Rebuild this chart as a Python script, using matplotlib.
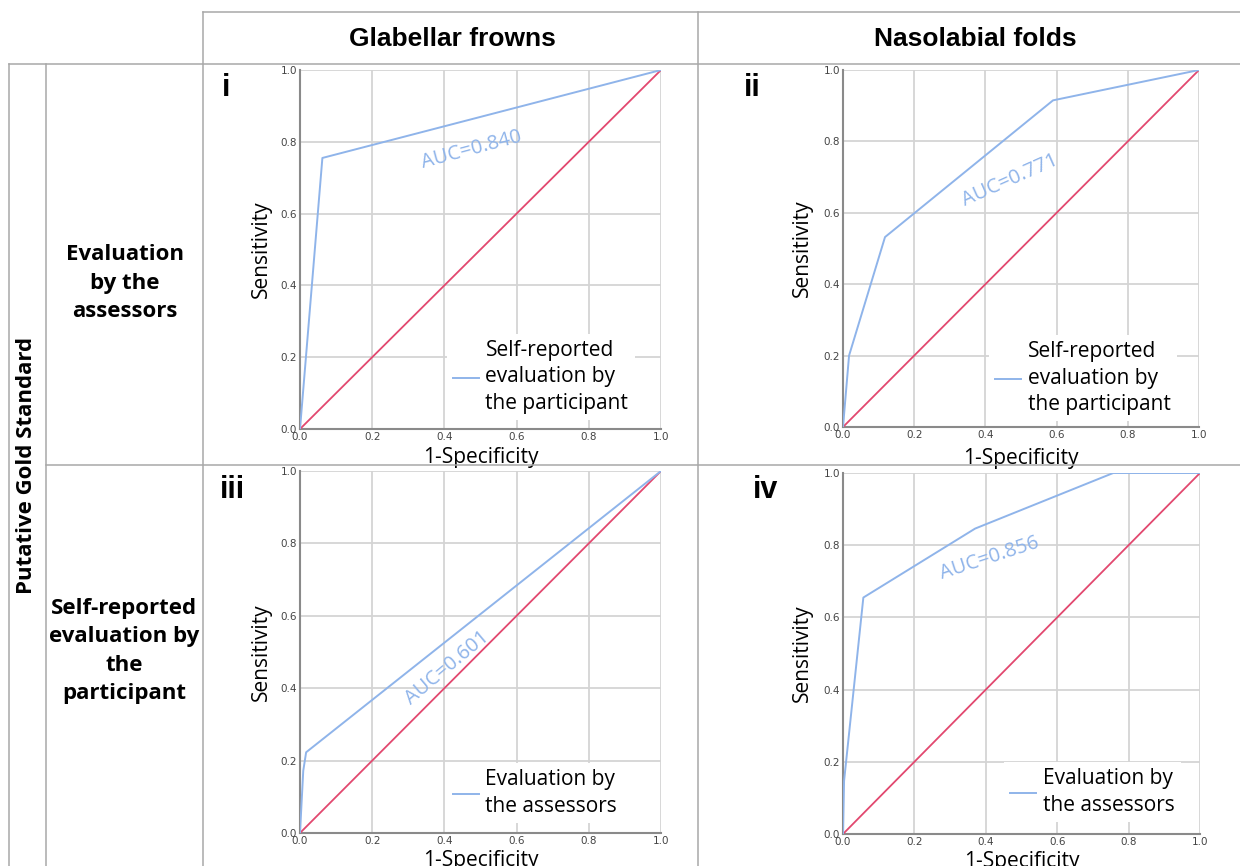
import numpy as np
import matplotlib.pyplot as plt
from matplotlib.lines import Line2D

# ---------------- datos ----------------
fpr_i = [0.0, 0.062, 1.0]
tpr_i = [0.0, 0.755, 1.0]
fpr_ii = [0.0, 0.017, 0.118, 0.59, 1.0]
tpr_ii = [0.0, 0.20, 0.532, 0.915, 1.0]
fpr_iii = [0.0, 0.009, 0.017, 1.0]
tpr_iii = [0.0, 0.172, 0.223, 1.0]
fpr_iv = [0.0, 0.003, 0.057, 0.37, 0.757, 1.0]
tpr_iv = [0.0, 0.147, 0.655, 0.846, 1.0, 1.0]

auc_text = ["AUC=0.840", "AUC=0.771", "AUC=0.601", "AUC=0.856"]
leyendas = ["Self-reported\nevaluation by\nthe participant",
            "Self-reported\nevaluation by\nthe participant",
            "Evaluation by\nthe assessors",
            "Evaluation by\nthe assessors"]
numerales = ["i", "ii", "iii", "iv"]
columnas = ["Glabellar frowns", "Nasolabial folds"]
filas = ["Evaluation\nby the\nassessors", "Self-reported\nevaluation by\nthe\nparticipant"]
ticks = [0.0, 0.2, 0.4, 0.6, 0.8, 1.0]

W, H = 1240, 866
AZUL = "#8fb4ea"
ROJO = "#e2486f"
GRIS = "#a8a8a8"

fig = plt.figure(figsize=(W / 100, H / 100), dpi=100)


def caja(x0, y0, x1, y1):
    # pixeles (origen arriba-izquierda) -> fraccion de figura
    return [x0 / W, 1 - y1 / H, (x1 - x0) / W, (y1 - y0) / H]


def linea(x0, y0, x1, y1):
    fig.add_artist(Line2D([x0 / W, x1 / W], [1 - y0 / H, 1 - y1 / H],
                          transform=fig.transFigure, color=GRIS, lw=1.1))


# ---------------- lineas de la tabla ----------------
linea(203, 12, 1240, 12)
linea(9, 64, 1240, 64)
linea(46, 465, 1240, 465)
linea(203, 12, 203, 866)
linea(698, 12, 698, 866)
linea(9, 64, 9, 866)
linea(46, 64, 46, 866)

fig.text(452 / W, 1 - 39 / H, columnas[0], ha="center", va="center",
         family="Liberation Sans", weight="bold", fontsize=19)
fig.text(975 / W, 1 - 39 / H, columnas[1], ha="center", va="center",
         family="Liberation Sans", weight="bold", fontsize=19)
fig.text(27 / W, 1 - 465 / H, "Putative Gold Standard", ha="center", va="center",
         rotation=90, family="Open Sans", weight="bold", fontsize=16)
fig.text(124.5 / W, 1 - 283 / H, filas[0], ha="center", va="center",
         family="Open Sans", weight="bold", fontsize=16, linespacing=1.45)
fig.text(124.5 / W, 1 - 651 / H, filas[1], ha="center", va="center",
         family="Open Sans", weight="bold", fontsize=16, linespacing=1.45)

# ---------------- paneles ----------------
# (x, y, tpr), rect, (auc x, auc y, giro), (ylabel x, xlabel y), legend anchor, numeral
paneles = [
    (fpr_i, tpr_i, caja(300, 70, 661, 429), (0.476, 0.777, 15), (-0.078, -0.05), (0.407, 0.145), (226, 88)),
    (fpr_ii, tpr_ii, caja(843, 70, 1199, 427), (0.47, 0.69, 24), (-0.084, -0.059), (0.41, 0.137), (752, 88)),
    (fpr_iii, tpr_iii, caja(300, 471, 661, 833), (0.407, 0.457, 40), (-0.078, -0.047), (0.407, 0.11), (232, 490)),
    (fpr_iv, tpr_iv, caja(843, 473, 1200, 834), (0.41, 0.765, 18), (-0.084, -0.047), (0.451, 0.116), (766, 490)),
]

for k, (fx, ty, rect, auc, lab, leg, num) in enumerate(paneles):
    ax = fig.add_axes(rect)
    ax.plot([0, 1], [0, 1], color=ROJO, lw=1.3, zorder=3)
    ax.plot(fx, ty, color=AZUL, lw=1.4, zorder=4, label=leyendas[k])
    ax.set_xlim(0, 1)
    ax.set_ylim(0, 1)
    ax.set_xticks(ticks)
    ax.set_yticks(ticks)
    ax.set_xticklabels([f"{t:.1f}" for t in ticks])
    ax.set_yticklabels([f"{t:.1f}" for t in ticks])
    ax.tick_params(length=0, labelsize=7.5, colors="#444444", pad=2)
    ax.grid(True, color="#d4d4d4", lw=1.3)
    ax.set_axisbelow(True)
    for s in ["top", "right"]:
        ax.spines[s].set_visible(False)
    for s in ["left", "bottom"]:
        ax.spines[s].set_color("#8a8a8a")
        ax.spines[s].set_linewidth(1.5)
    ax.set_ylabel("Sensitivity", family="Open Sans", fontsize=15)
    ax.set_xlabel("1-Specificity", family="Open Sans", fontsize=15)
    ax.yaxis.set_label_coords(lab[0], 0.5)
    ax.xaxis.set_label_coords(0.5, lab[1])
    ax.text(auc[0], auc[1], auc_text[k], rotation=auc[2], rotation_mode="anchor",
            ha="center", va="center", color=AZUL, family="Open Sans", fontsize=14.5, zorder=5)
    lg = ax.legend(loc="center left", bbox_to_anchor=leg, borderaxespad=0, frameon=True,
                   fancybox=False, prop={"family": "Open Sans", "size": 15}, handlelength=1.25,
                   handletextpad=0.3, borderpad=0.3, labelspacing=0.2)
    lg.get_frame().set_facecolor("white")
    lg.get_frame().set_edgecolor("none")
    lg.get_frame().set_alpha(1)
    for t in lg.get_texts():
        t.set_linespacing(1.35)
    fig.text(num[0] / W, 1 - num[1] / H, numerales[k], ha="center", va="center",
             family="Liberation Sans", weight="bold", fontsize=22)

fig.savefig("out.png", dpi=100)
